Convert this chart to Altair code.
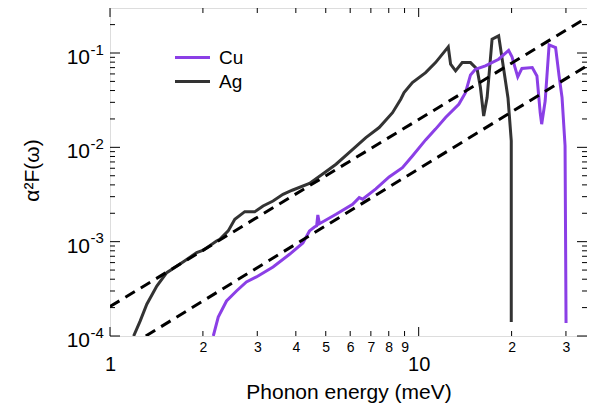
import altair as alt
import pandas as pd

FONT = "Liberation Sans"
PURPLE = "#8B3FE6"
DARK = "#333333"

# ---- data ----
ag_E = [1.193, 1.252, 1.316, 1.418, 1.527, 1.729, 1.909, 2.006, 2.214, 2.269, 2.415, 2.537,
        2.733, 2.943, 3.132, 3.374, 3.634, 3.894, 4.428, 4.938, 5.398, 5.888, 6.745, 7.447,
        8.227, 8.748, 8.966, 9.543, 10.53, 11.34, 12.47, 12.69, 13.17, 13.84, 14.72, 15.47,
        15.85, 16.24, 16.66, 17.29, 18.16, 18.85, 19.47, 19.95, 19.95]
ag_val = [1.0e-4, 1.44e-4, 2.17e-4, 3.39e-4, 4.69e-4, 6.14e-4, 7.64e-4, 8.11e-4, 1.016e-3,
          1.06e-3, 1.30e-3, 1.73e-3, 2.08e-3, 2.07e-3, 2.39e-3, 2.70e-3, 3.18e-3, 3.51e-3,
          4.14e-3, 5.35e-3, 6.62e-3, 8.51e-3, 1.27e-2, 1.62e-2, 2.33e-2, 3.24e-2, 3.80e-2,
          4.85e-2, 6.19e-2, 7.91e-2, 0.116, 7.60e-2, 6.46e-2, 7.91e-2, 7.91e-2, 6.73e-2,
          4.30e-2, 2.15e-2, 3.37e-2, 0.140, 0.152, 6.78e-2, 3.34e-2, 1.17e-2, 1.41e-4]

cu_E = [2.161, 2.242, 2.385, 2.569, 2.766, 2.980, 3.374, 3.816, 4.216, 4.428, 4.596, 4.671,
        4.713, 4.769, 5.398, 6.110, 6.418, 6.582, 7.265, 8.022, 8.859, 9.543, 10.53, 11.34,
        12.22, 13.49, 14.18, 14.72, 15.27, 16.45, 18.16, 19.56, 20.06, 20.40, 20.94, 21.60,
        23.33, 24.16, 24.76, 25.03, 25.69, 26.46, 27.77, 28.50, 29.14, 29.80, 30.02]
cu_val = [1.0e-4, 1.59e-4, 2.35e-4, 3.00e-4, 3.74e-4, 4.23e-4, 5.39e-4, 7.35e-4, 9.69e-4,
          1.30e-3, 1.43e-3, 1.47e-3, 1.92e-3, 1.55e-3, 1.95e-3, 2.49e-3, 2.93e-3, 2.82e-3,
          3.62e-3, 4.85e-3, 6.09e-3, 8.11e-3, 1.20e-2, 1.56e-2, 2.07e-2, 2.86e-2, 3.80e-2,
          5.86e-2, 6.73e-2, 7.29e-2, 8.59e-2, 0.1066, 9.09e-2, 7.48e-2, 5.58e-2, 6.87e-2,
          7.00e-2, 5.72e-2, 2.32e-2, 1.76e-2, 3.10e-2, 0.122, 0.114, 5.72e-2, 3.37e-2,
          1.04e-2, 1.37e-4]

fit_hi_E = [1.0, 35.1]
fit_hi_val = [2.05e-4, 0.238]
fit_lo_E = [1.306, 35.1]
fit_lo_val = [1.0e-4, 7.33e-2]

x_major = [1, 10]
x_minor = [2, 3, 4, 5, 6, 7, 8, 9, 20, 30]
y_major = [1e-4, 1e-3, 1e-2, 1e-1]
y_major_exp = ["-4", "-3", "-2", "-1"]
y_minor = [k * d for d in (1e-4, 1e-3, 1e-2, 1e-1) for k in range(2, 10) if k * d < 0.3]

W, H = 477, 328
xscale = alt.Scale(type="log", domain=[1, 35.1], nice=False)
yscale = alt.Scale(type="log", domain=[1e-4, 0.3], nice=False)

curves = pd.DataFrame({
    "E": ag_E + cu_E,
    "val": ag_val + cu_val,
    "metal": ["Ag"] * len(ag_E) + ["Cu"] * len(cu_E),
    "idx": list(range(len(ag_E))) + list(range(len(cu_E))),
})
fits = pd.DataFrame({
    "E": fit_hi_E + fit_lo_E,
    "val": fit_hi_val + fit_lo_val,
    "fit": ["hi"] * 2 + ["lo"] * 2,
})

major_test = "datum.value == 1 || datum.value == 10"
x_axis = alt.Axis(
    values=x_major + x_minor,
    labelExpr="datum.value > 10 ? '' + (datum.value / 10) : '' + datum.value",
    labelFontSize={"condition": {"test": major_test, "value": 20}, "value": 14},
    labelPadding={"condition": {"test": major_test, "value": 18}, "value": 4},
    labelFont=FONT, labelColor="black", labelFlush=False, labelOverlap=False,
    ticks=False, domain=False, grid=False,
    title="Phonon energy (meV)", titleFont=FONT, titleFontSize=21,
    titleFontWeight="normal", titleColor="black", titleY=45, titleBaseline="top",
)
y_axis = alt.Axis(
    labels=False, ticks=False, domain=False, grid=False,
    title="α²F(ω)", titleFont=FONT, titleFontSize=21, titleFontWeight="normal",
    titleColor="black", titleX=-78, titleY=162, titleAngle=270,
    titleAlign="center", titleBaseline="middle",
)

X = lambda f: alt.X(f, scale=xscale, axis=x_axis)
Y = lambda f: alt.Y(f, scale=yscale, axis=y_axis)

lines = alt.Chart(curves).mark_line(strokeWidth=3, clip=True).encode(
    x=X("E:Q"),
    y=Y("val:Q"),
    color=alt.Color(
        "metal:N",
        scale=alt.Scale(domain=["Cu", "Ag"], range=[PURPLE, DARK]),
        legend=alt.Legend(
            title=None, orient="none", legendX=72, legendY=39,
            symbolType="M-2,0L2,0", symbolSize=306, symbolStrokeWidth=3,
            labelFont=FONT, labelFontSize=19, labelColor="black",
            labelOffset=16, rowPadding=3, padding=0,
        ),
    ),
    order=alt.Order("idx:Q"),
)

fit_lines = alt.Chart(fits).mark_line(
    strokeWidth=3, color="black", strokeDash=[11, 7], clip=True
).encode(
    x=X("E:Q"),
    y=Y("val:Q"),
    detail="fit:N",
)


def xticks(vals, length, top):
    df = pd.DataFrame({"v": vals})
    if top:
        y0, y1 = 0, length
    else:
        y0, y1 = H, H - length
    return alt.Chart(df).mark_rule(color="black", strokeWidth=1).encode(
        x=X("v:Q"),
        y=alt.value(y0), y2=alt.value(y1),
    )


def yticks(vals, length, right):
    df = pd.DataFrame({"v": vals})
    if right:
        x0, x1 = W, W - length
    else:
        x0, x1 = 0, length
    return alt.Chart(df).mark_rule(color="black", strokeWidth=1).encode(
        y=Y("v:Q"),
        x=alt.value(x0), x2=alt.value(x1),
    )


ticks = [
    xticks(x_major, 9, False), xticks(x_minor, 5, False),
    xticks(x_major, 9, True), xticks(x_minor, 5, True),
    yticks(y_major, 10, False), yticks(y_minor, 5, False),
    yticks(y_major, 10, True), yticks(y_minor, 5, True),
]

ylab_df = pd.DataFrame({"v": y_major, "exp": y_major_exp})
ylab_base = alt.Chart(ylab_df).mark_text(
    align="right", baseline="alphabetic", dy=11, fontSize=21, font=FONT, color="black"
).encode(
    y=Y("v:Q"),
    x=alt.value(-20),
    text=alt.value("10"),
)
ylab_exp = alt.Chart(ylab_df).mark_text(
    align="left", baseline="alphabetic", dy=1.5, fontSize=15, font=FONT, color="black"
).encode(
    y=Y("v:Q"),
    x=alt.value(-19.5),
    text="exp:N",
)

chart = alt.layer(lines, fit_lines, *ticks, ylab_base, ylab_exp).properties(
    width=W, height=H,
    autosize=alt.AutoSizeParams(type="none"),
    padding={"left": 102, "top": 0, "right": 0, "bottom": 69},
    background="white",
).configure_view(stroke="black", strokeWidth=1.2).configure(font=FONT)

chart.save("out.html", embed_options={"renderer": "svg", "actions": False})
